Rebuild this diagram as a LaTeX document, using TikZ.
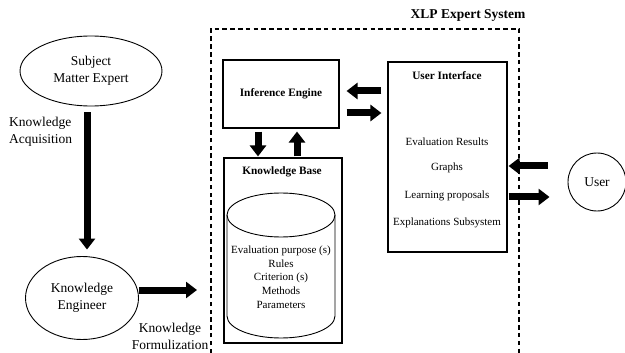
\documentclass[tikz,border=0pt]{standalone}
\usepackage{fontspec}
\setmainfont{Liberation Serif}
\usetikzlibrary{arrows.meta,shapes.geometric}

\begin{document}
\begin{tikzpicture}[x=1pt, y=-1pt,
        box/.style={draw, line width=1.1pt, inner sep=0pt},
        oval/.style={draw, ellipse, line width=0.9pt, inner sep=0pt, align=center, font=\fontsize{13.5}{17.5}\selectfont},
        lbl/.style={inner sep=0pt, align=center, font=\fontsize{13.5}{17}\selectfont},
        item/.style={inner sep=0pt, align=center, font=\fontsize{11}{13.7}\selectfont},
        head/.style={inner sep=0pt, font=\fontsize{11.3}{13.7}\selectfont\bfseries},
        fat/.style={line width=7pt, -{Triangle[length=11pt,width=16pt]}}]
        \useasboundingbox (0,0) rectangle (625,353);
        % system frame
        \coordinate (f0) at (211, 353);
        \coordinate (f1) at (211, 29);
        \coordinate (f2) at (519, 29);
        \coordinate (f3) at (519, 353);
        \draw[line width=1.1pt, dash pattern=on 4.5pt off 3.3pt] (f0) -- (f1) -- (f2) -- (f3);
        \node[head, font=\fontsize{13.5}{16}\selectfont\bfseries] (title) at (468, 15) {XLP Expert System};
        % outside
        \node[oval, minimum width=142pt, minimum height=70pt] (sme) at (91, 71) {Subject\\Matter Expert};
        \node[oval, minimum width=113pt, minimum height=83pt] (ke) at (82, 298) {Knowledge\\Engineer};
        \node[lbl, anchor=west, align=left] (acq) at (9, 131.5) {Knowledge\\Acquisition};
        \node[lbl] (frm) at (170, 336) {Knowledge\\Formulization};
        \node[draw, circle, line width=0.9pt, minimum size=58pt, inner sep=0pt, font=\fontsize{13.5}{16}\selectfont] (user) at (597, 182) {User};
        % inside
        \node[box, minimum width=116pt, minimum height=68pt, font=\fontsize{11.3}{13.7}\selectfont\bfseries] (ie) at (281, 94) {Inference Engine};
        \node[box, minimum width=118pt, minimum height=185pt] (kb) at (283, 250.5) {};
        \node[head] (kbt) at (282, 172) {Knowledge Base};
        \draw[line width=0.9pt] (281, 215) ellipse [x radius=54pt, y radius=22pt];
        \draw[line width=0.9pt] (227, 215) -- (227, 316) arc [start angle=180, end angle=360, x radius=54pt, y radius=22pt] -- (335, 215);
        \node[item] (kbl) at (281, 277) {Evaluation purpose (s)\\Rules\\Criterion (s)\\Methods\\Parameters};
        \node[box, minimum width=119pt, minimum height=190pt] (ui) at (447.5, 157) {};
        \node[head] (uit) at (447, 76) {User Interface};
        \node[item] (ui1) at (447, 142) {Evaluation Results};
        \node[item] (ui2) at (447, 168) {Graphs};
        \node[item] (ui3) at (447, 196) {Learning proposals};
        \node[item] (ui4) at (447, 223) {Explanations Subsystem};
        % arrows
        \coordinate (a0) at ([xshift=-4pt]sme.south);
        \coordinate (a1) at ([yshift=8pt]ke.east);
        \coordinate (a2) at ([xshift=-23pt]ie.south);
        \coordinate (a3) at ([xshift=16pt]ie.south);
        \coordinate (a4) at ([yshift=3pt]ie.east);
        \coordinate (a5) at ([yshift=-19pt]ie.east);
        \coordinate (a6) at ([yshift=16pt]user.west);
        \coordinate (a7) at ([yshift=-15pt]user.west);
        \draw[fat, shorten <=6pt, shorten >=6.5pt] (a0) -- (a0 |- ke.north);
        \draw[fat, shorten >=14pt] (a1) -- (a1 -| f0);
        \draw[fat, shorten <=3pt, shorten >=1pt] (a2) -- (a2 |- kb.north);
        \draw[fat, shorten <=1pt, shorten >=3pt] (a3 |- kb.north) -- (a3);
        \draw[fat, shorten <=6pt, shorten >=7pt] (a4 -| ui.west) -- (a4);
        \draw[fat, shorten <=7pt, shorten >=6pt] (a5) -- (a5 -| ui.west);
        \draw[fat, shorten <=20pt, shorten >=1pt] (a6) -- (a6 -| ui.east);
        \draw[fat, shorten <=1pt, shorten >=18pt] (a7 -| ui.east) -- (a7);
\end{tikzpicture}
\end{document}
